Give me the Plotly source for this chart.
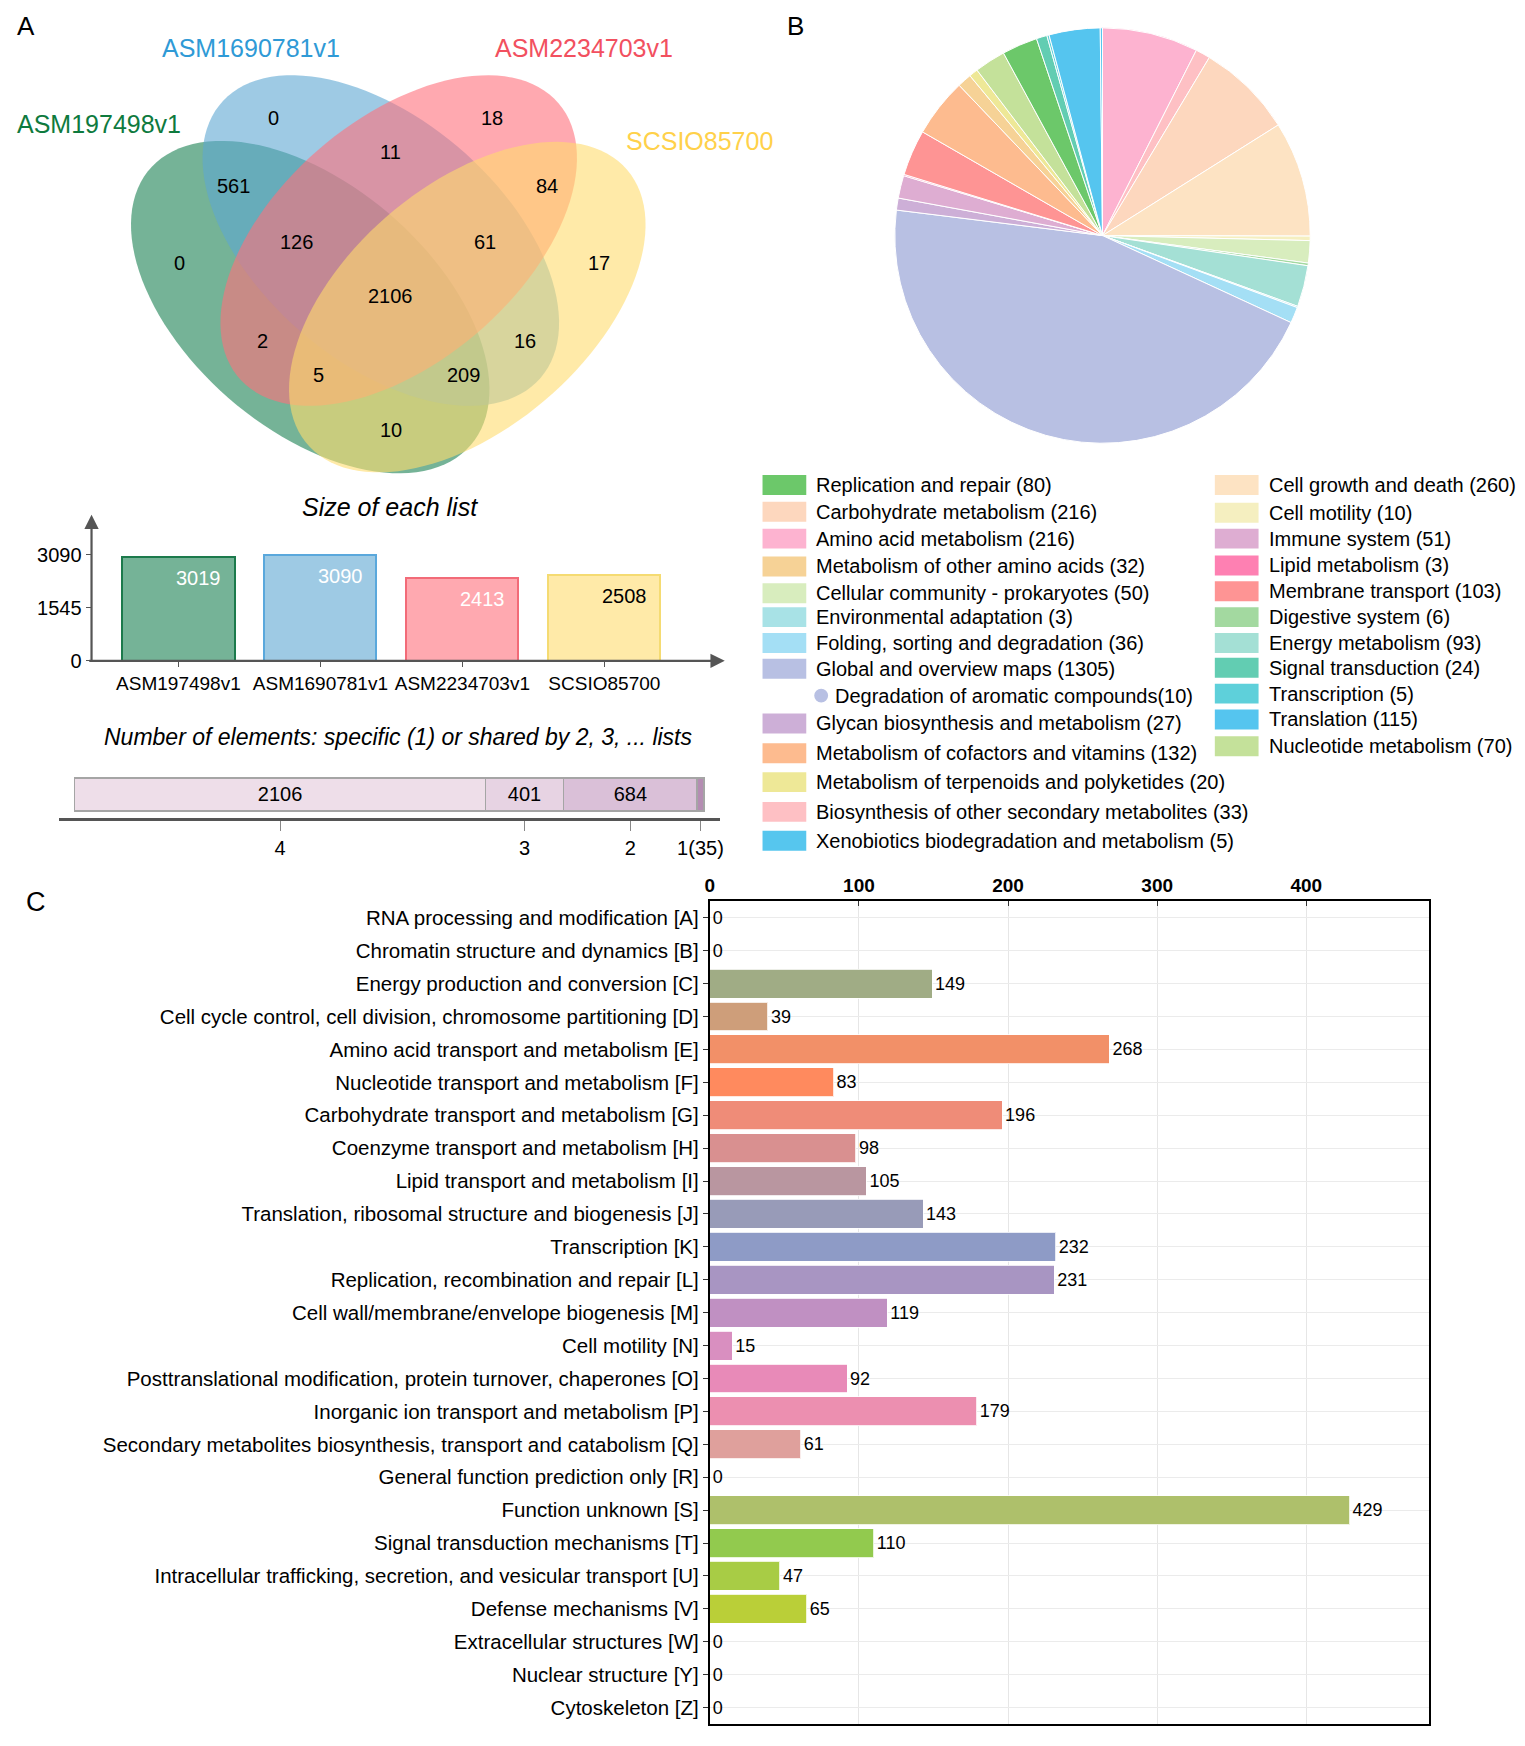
import numpy as np
import plotly.graph_objects as go

W, H = 1525, 1746
OFF = 8  # margem do body da pagina
FW, FH = W - OFF, H - OFF
FONT = "Liberation Sans, Arial, sans-serif"

# ---------------- dados: painel A ----------------
set_names = ["ASM197498v1", "ASM1690781v1", "ASM2234703v1", "SCSIO85700"]
set_text_colors = ["#0E7A3E", "#2F9AD6", "#F2505F", "#FFD14A"]
set_fill = ["rgba(25,128,82,0.6)", "rgba(93,167,210,0.6)",
            "rgba(255,112,123,0.6)", "rgba(255,220,110,0.6)"]

# regioes do Venn: G=ASM197498v1, B=ASM1690781v1, R=ASM2234703v1, Y=SCSIO85700
region_keys = ["B", "R", "BR", "GB", "RY", "G", "GBR", "BRY", "Y",
               "GBRY", "GR", "BY", "GRY", "GBY", "GY"]
region_counts = [0, 18, 11, 561, 84, 0, 126, 61, 17, 2106, 2, 16, 5, 209, 10]

list_sizes = [3019, 3090, 2413, 2508]
size_bar_colors = ["#75B397", "#9ECAE4", "#FFA9B0", "#FFEAA8"]
size_bar_lines = ["#1C7A4C", "#5AA8DC", "#F26B78", "#F5DB72"]
size_text_colors = ["white", "white", "white", "black"]

shared_by = ["4", "3", "2", "1(35)"]
shared_counts = [2106, 401, 684, 35]
shared_colors = ["#EEDEE9", "#E7D3E3", "#DAC0D8", "#B48DB2"]

# ---------------- dados: painel B (KEGG) ----------------
kegg_left = ["Replication and repair", "Carbohydrate metabolism", "Amino acid metabolism",
             "Metabolism of other amino acids", "Cellular community - prokaryotes",
             "Environmental adaptation", "Folding, sorting and degradation",
             "Global and overview maps", "Glycan biosynthesis and metabolism",
             "Metabolism of cofactors and vitamins", "Metabolism of terpenoids and polyketides",
             "Biosynthesis of other secondary metabolites", "Xenobiotics biodegradation and metabolism"]
kegg_left_counts = [80, 216, 216, 32, 50, 3, 36, 1305, 27, 132, 20, 33, 5]
kegg_left_colors = ["#6CC86A", "#FDD7BE", "#FDB3D0", "#F6D296", "#D8EDBE", "#A8E2E6",
                    "#A4DFF5", "#B8C0E3", "#CDAFD7", "#FDBB8F", "#EEE897", "#FEC0C4", "#56C6EE"]

kegg_right = ["Cell growth and death", "Cell motility", "Immune system", "Lipid metabolism",
              "Membrane transport", "Digestive system", "Energy metabolism",
              "Signal transduction", "Transcription", "Translation", "Nucleotide metabolism"]
kegg_right_counts = [260, 10, 51, 3, 103, 6, 93, 24, 5, 115, 70]
kegg_right_colors = ["#FDE3C3", "#F5EFC0", "#DEADD2", "#FE80B2", "#FE9494", "#A3D9A0",
                     "#A4E0D5", "#62CDB2", "#5ED0DA", "#55C5EF", "#C4E19A"]

sub_item = "Degradation of aromatic compounds"
sub_item_count = 10

# ---------------- dados: painel C (COG) ----------------
cog_names = ["RNA processing and modification [A]", "Chromatin structure and dynamics [B]",
             "Energy production and conversion [C]",
             "Cell cycle control, cell division, chromosome partitioning [D]",
             "Amino acid transport and metabolism [E]", "Nucleotide transport and metabolism [F]",
             "Carbohydrate transport and metabolism [G]", "Coenzyme transport and metabolism [H]",
             "Lipid transport and metabolism [I]",
             "Translation, ribosomal structure and biogenesis [J]", "Transcription [K]",
             "Replication, recombination and repair [L]",
             "Cell wall/membrane/envelope biogenesis [M]", "Cell motility [N]",
             "Posttranslational modification, protein turnover, chaperones [O]",
             "Inorganic ion transport and metabolism [P]",
             "Secondary metabolites biosynthesis, transport and catabolism [Q]",
             "General function prediction only [R]", "Function unknown [S]",
             "Signal transduction mechanisms [T]",
             "Intracellular trafficking, secretion, and vesicular transport [U]",
             "Defense mechanisms [V]", "Extracellular structures [W]",
             "Nuclear structure [Y]", "Cytoskeleton [Z]"]
cog_counts = [0, 0, 149, 39, 268, 83, 196, 98, 105, 143, 232, 231, 119, 15, 92, 179, 61,
              0, 429, 110, 47, 65, 0, 0, 0]
cog_colors = ["#CCCCCC", "#CCCCCC", "#A0AC85", "#CE9E7A", "#F29068", "#FF8A5E", "#EF8C78",
              "#D99090", "#B996A0", "#989BB8", "#8E9BC6", "#A895C2", "#C090C2", "#D98FC0",
              "#E88AB8", "#EC8FB0", "#DFA09C", "#CCCCCC", "#AEC06B", "#92CA4E", "#A8CC45",
              "#BACF38", "#CCCCCC", "#CCCCCC", "#CCCCCC"]


def px(x, y):
    # pixel da pagina -> paper
    return (x - OFF) / FW, 1 - (y - OFF) / FH


def dom_x(a, b):
    return [px(a, 0)[0], px(b, 0)[0]]


def dom_y(top, bottom):
    return [px(0, bottom)[1], px(0, top)[1]]


fig = go.Figure()
shapes = []
annotations = []


def text(x, y, s, size=20, color="black", anchor="center", italic=False, bold=False):
    xp, yp = px(x, y)
    annotations.append(dict(
        x=xp, y=yp, xref="paper", yref="paper", text=s, showarrow=False,
        xanchor=anchor, yanchor="middle",
        font=dict(family=FONT, size=size, color=color,
                  style="italic" if italic else "normal",
                  weight="bold" if bold else "normal")))


# ---------------- painel A: Venn ----------------
ellipses = [  # cx, cy, a, b, angulo (px da tela)
    (307, 309, 213, 123, 40.7),
    (378, 242, 212, 122, 40.7),
    (396, 242, 212, 122, -40.7),
    (465, 309, 212, 122, -40.7),
]
t = np.linspace(0, 2 * np.pi, 120)
for (cx, cy, a, b, ang), fill in zip(ellipses, set_fill):
    th = np.radians(ang)
    ex = cx + a * np.cos(t) * np.cos(th) - b * np.sin(t) * np.sin(th)
    ey = cy + a * np.cos(t) * np.sin(th) + b * np.sin(t) * np.cos(th)
    pts = [px(x, y) for x, y in zip(ex, ey)]
    path = "M " + " L ".join(f"{p[0]:.5f},{p[1]:.5f}" for p in pts) + " Z"
    shapes.append(dict(type="path", path=path, xref="paper", yref="paper",
                       fillcolor=fill, line=dict(width=0), layer="below"))

set_label_pos = [(95, 125), (247, 48), (582, 48), (699, 142)]
for name, col, (x, y) in zip(set_names, set_text_colors, set_label_pos):
    text(x, y, name, size=25, color=col)

region_pos = [(270, 119), (490, 119), (388, 153), (230, 187), (545, 187), (175, 265),
              (293, 243), (483, 243), (597, 265), (388, 298), (259, 343), (523, 343),
              (315, 377), (461, 377), (388, 433)]
for n, (x, y) in zip(region_counts, region_pos):
    text(x, y, str(n), size=20)

text(21, 26, "A", size=26)
text(795, 26, "B", size=26)
text(31, 908, "C", size=27)

# ---------------- painel A: tamanho de cada lista ----------------
text(387, 510, "Size of each list", size=25, italic=True)
fig.add_trace(go.Bar(
    x=set_names, y=list_sizes, marker=dict(color=size_bar_colors,
                                           line=dict(color=size_bar_lines, width=2)),
    width=0.79, xaxis="x2", yaxis="y2", showlegend=False, hoverinfo="x+y"))
for i, (v, c) in enumerate(zip(list_sizes, size_text_colors)):
    annotations.append(dict(x=i, y=v, xref="x2", yref="y2", text=str(v), showarrow=False,
                            xshift=20, yshift=-21,
                            font=dict(family=FONT, size=20, color=c)))
# setas dos eixos
x0, y0 = px(87, 665)
annotations.append(dict(x=px(724, 665)[0], y=y0, xref="paper", yref="paper", ax=-637, ay=0,
                        showarrow=True, arrowhead=2, arrowsize=1.3, arrowwidth=2.2,
                        arrowcolor="#555555", text=""))
annotations.append(dict(x=x0, y=px(87, 518)[1], xref="paper", yref="paper", ax=0, ay=147,
                        showarrow=True, arrowhead=2, arrowsize=1.3, arrowwidth=2.2,
                        arrowcolor="#555555", text=""))

# ---------------- painel A: elementos compartilhados ----------------
text(396, 742, "Number of elements: specific (1) or shared by 2, 3, ... lists",
     size=23, italic=True)
total_shared = sum(shared_counts)
cum = np.cumsum(shared_counts)
centers = cum - np.array(shared_counts) / 2
pad = total_shared * 16 / 633
for lab, n, col in zip(shared_by, shared_counts, shared_colors):
    fig.add_trace(go.Bar(
        x=[n], y=["all"], orientation="h",
        marker=dict(color=col, line=dict(color="#A5A5A5", width=1.5)),
        text=[str(n) if n > 100 else ""], textposition="inside", insidetextanchor="middle",
        textfont=dict(family=FONT, size=20, color="black"),
        width=0.7, xaxis="x4", yaxis="y4", showlegend=False, name=lab))

# ---------------- painel B: pizza ----------------
pie_names = kegg_left + kegg_right
pie_counts = kegg_left_counts + kegg_right_counts
pie_colors = kegg_left_colors + kegg_right_colors
order = sorted(range(len(pie_names)), key=lambda i: pie_names[i])
fig.add_trace(go.Pie(
    labels=[pie_names[i] for i in order], values=[pie_counts[i] for i in order],
    marker=dict(colors=[pie_colors[i] for i in order], line=dict(color="white", width=1)),
    sort=False, direction="clockwise", rotation=0, textinfo="none",
    domain=dict(x=dom_x(895, 1313), y=dom_y(28, 446)), showlegend=False))

# legenda manual em duas colunas
left_rows = [488, 515, 542, 570, 597, 621, 647, 673, 728, 758, 787, 817, 846]
right_rows = [488, 516, 542, 569, 595, 621, 647, 672, 698, 724, 751]
for names, counts, cols, rows, sx in [
        (kegg_left, kegg_left_counts, kegg_left_colors, left_rows, 762),
        (kegg_right, kegg_right_counts, kegg_right_colors, right_rows, 1217)]:
    for nm, n, c, y in zip(names, counts, cols, rows):
        xa, ya = px(sx, y - 10)
        xb, yb = px(sx + 44, y + 10)
        shapes.append(dict(type="rect", xref="paper", yref="paper", x0=xa, x1=xb, y0=yb, y1=ya,
                           fillcolor=c, line=dict(width=0)))
        text(sx + 52, y, f"{nm} ({n})", size=20, anchor="left")
xa, ya = px(814, 693)
xb, yb = px(828, 707)
shapes.append(dict(type="circle", xref="paper", yref="paper", x0=xa, x1=xb, y0=yb, y1=ya,
                   fillcolor=kegg_left_colors[7], line=dict(width=0)))
text(833, 700, f"{sub_item}({sub_item_count})", size=20, anchor="left")

# ---------------- painel C: COG ----------------
fig.add_trace(go.Bar(
    x=cog_counts, y=cog_names, orientation="h",
    marker=dict(color=cog_colors, line=dict(color="rgba(255,255,255,0.8)", width=1)),
    width=0.88, text=[str(v) for v in cog_counts], textposition="outside",
    textfont=dict(family=FONT, size=18, color="black"), cliponaxis=False,
    xaxis="x3", yaxis="y3", showlegend=False))

fig.update_layout(
    width=FW, height=FH, margin=dict(l=0, r=0, t=0, b=0),
    paper_bgcolor="white", plot_bgcolor="white",
    font=dict(family=FONT, color="black"),
    barmode="stack",
    shapes=shapes, annotations=annotations,
    xaxis2=dict(domain=dom_x(87, 720), anchor="y2", range=[-0.612, 3.82],
                showline=False, showgrid=False, zeroline=False, ticks="outside", ticklen=5,
                tickcolor="#555555", tickangle=0, tickfont=dict(size=19, family=FONT)),
    yaxis2=dict(domain=dom_y(520, 665), anchor="x2",
                range=[0, max(list_sizes) * 145 / 107], showline=False, showgrid=False,
                zeroline=False, tickvals=[0, max(list_sizes) / 2, max(list_sizes)],
                ticks="outside", ticklen=5, tickcolor="#555555",
                tickfont=dict(size=20, family=FONT)),
    xaxis4=dict(domain=dom_x(54, 719), anchor="y4", range=[-pad, total_shared + pad],
                showline=True, linecolor="#555555", linewidth=2.5, showgrid=False,
                zeroline=False, tickvals=list(centers), ticktext=shared_by,
                ticks="outside", ticklen=10, tickcolor="#888888",
                tickfont=dict(size=20, family=FONT)),
    yaxis4=dict(domain=dom_y(776, 823), anchor="x4", range=[-0.5, 0.5], visible=False),
    xaxis3=dict(domain=dom_x(709, 1432), anchor="y3", side="top", range=[0, 482],
                dtick=100, showline=True, linecolor="black", linewidth=2, mirror=True,
                showgrid=True, gridcolor="#E6E6E6", zeroline=False,
                ticks="inside", ticklen=5, tickcolor="#333333",
                tickfont=dict(size=19, family=FONT, weight="bold")),
    yaxis3=dict(domain=dom_y(907, 1735), anchor="x3", autorange="reversed",
                showline=True, linecolor="black", linewidth=2, mirror=True,
                showgrid=True, gridcolor="#EBEBEB", ticks="outside", ticklen=5,
                tickcolor="#333333", tickfont=dict(size=20.5, family=FONT)),
    xaxis=dict(visible=False), yaxis=dict(visible=False),
)

fig.write_html("out.html")
